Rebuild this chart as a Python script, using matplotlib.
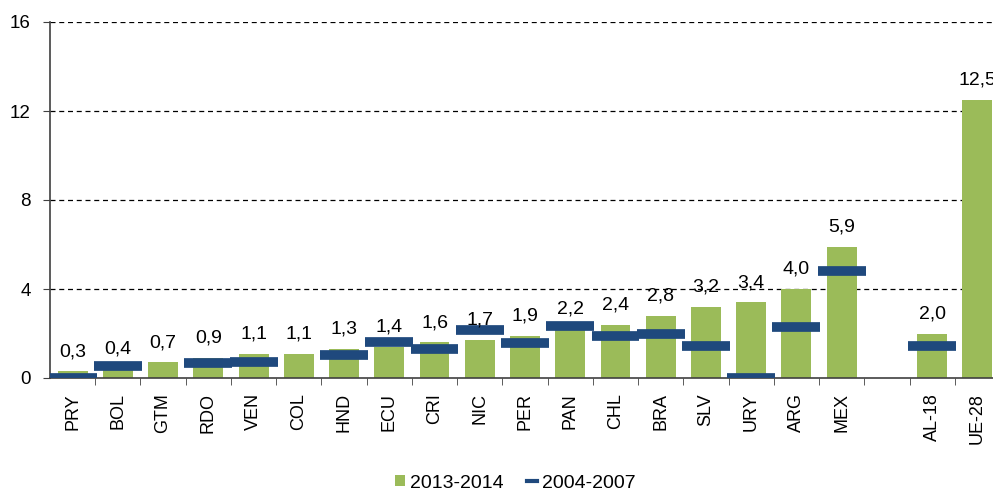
import matplotlib
matplotlib.use("Agg")
import matplotlib.pyplot as plt
from matplotlib.patches import Patch
from matplotlib.lines import Line2D
import numpy as np

plt.rcParams['font.family'] = ['Liberation Sans', 'DejaVu Sans']

categories = ["PRY", "BOL", "GTM", "RDO", "VEN", "COL", "HND", "ECU", "CRI", "NIC",
              "PER", "PAN", "CHL", "BRA", "SLV", "URY", "ARG", "MEX", "", "AL-18", "UE-28"]
vals_2013 = [0.3, 0.4, 0.7, 0.9, 1.1, 1.1, 1.3, 1.4, 1.6, 1.7,
             1.9, 2.2, 2.4, 2.8, 3.2, 3.4, 4.0, 5.9, None, 2.0, 12.5]
vals_2004 = [0.0, 0.55, None, 0.67, 0.73, None, 1.03, 1.62, 1.29, 2.16,
             1.58, 2.35, 1.90, 1.99, 1.45, 0.0, 2.30, 4.82, None, 1.45, None]
yticks = [0, 4, 8, 12, 16]

green = "#9BBB59"
navy = "#1F497D"

fig = plt.figure(figsize=(9.93, 4.91), dpi=100)
ax = fig.add_axes([50/993, 1-378/491, 950/993, 356/491])

x = np.arange(len(categories))
bx = [i for i, v in enumerate(vals_2013) if v is not None]
bv = [v for v in vals_2013 if v is not None]
ax.bar(bx, bv, width=0.66, color=green, zorder=2)

dx = np.array([i for i, v in enumerate(vals_2004) if v is not None])
dv = [v for v in vals_2004 if v is not None]
ax.hlines(dv, dx - 0.53, dx + 0.53, colors=navy, linewidth=7, capstyle='butt', zorder=3)

for i, v in zip(bx, bv):
    ax.annotate(f"{v:.1f}".replace(".", ","), (i, v), xytext=(0, 11), textcoords="offset points",
                ha="center", va="baseline", fontsize=14, color="#000000", zorder=4)

ax.set_xlim(-0.5, len(categories) - 0.5)
ax.set_ylim(0, 16)
ax.set_yticks(yticks)
ax.set_yticklabels([str(t) for t in yticks], fontsize=13.5)
for t in yticks[1:]:
    ax.axhline(t, color="black", linestyle=(0, (4, 3)), linewidth=0.9, zorder=1)

ax.set_xticks(x)
ax.set_xticklabels(categories, rotation=90, fontsize=13)
ax.set_xticks(np.arange(0.5, len(categories) - 0.5, 1.0), minor=True)
ax.tick_params(axis='x', which='major', length=0, pad=11)
ax.tick_params(axis='x', which='minor', length=5, direction='out', color="#404040")
ax.tick_params(axis='y', length=5, direction='out', color="#404040", pad=9)

for s in ["top", "right"]:
    ax.spines[s].set_visible(False)
for s in ["left", "bottom"]:
    ax.spines[s].set_color("#404040")
    ax.spines[s].set_linewidth(1.2)

handles = [Patch(facecolor=green, edgecolor='none'),
           Line2D([0], [0], color=navy, linewidth=3)]
fig.legend(handles, ["2013-2014", "2004-2007"], loc="center", bbox_to_anchor=(515/993, 1-483/491),
           ncol=2, frameon=False, fontsize=14, handlelength=0.52, handleheight=0.52,
           columnspacing=1.2, handletextpad=0.26, borderpad=0, borderaxespad=0)

fig.savefig("out.png", dpi=100)
